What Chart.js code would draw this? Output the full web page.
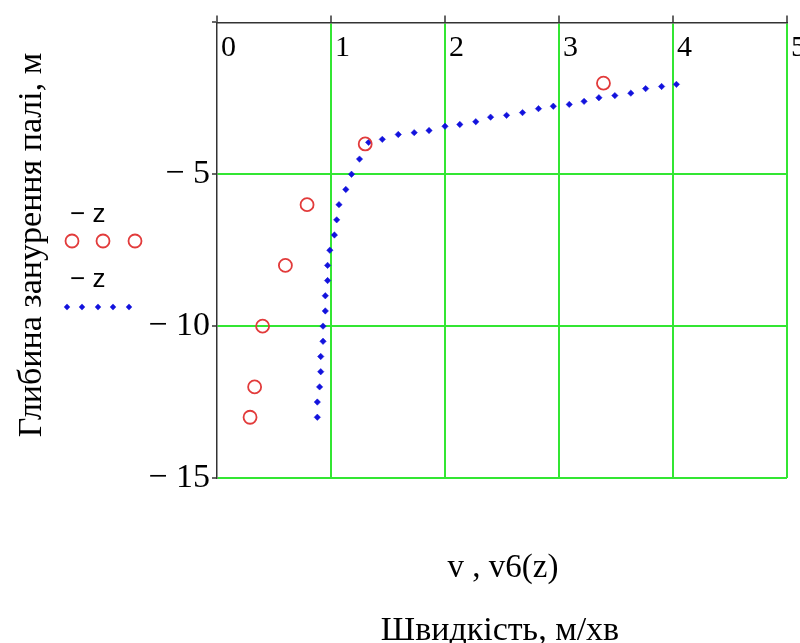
<!DOCTYPE html>
<html>
<head>
<meta charset="utf-8">
<script src="https://cdn.jsdelivr.net/npm/chart.js@4.4.1/dist/chart.umd.min.js"></script>
<style>
  html, body { margin: 0; padding: 0; background: #fff; }
  canvas { display: block; }
</style>
</head>
<body>
<canvas id="chart" width="800" height="643"></canvas>
<script>
// measured speed v (red circles)
const vX = [3.39, 1.30, 0.79, 0.60, 0.40, 0.33, 0.29];
const vZ = [-2, -4, -6, -8, -10, -12, -13];

// computed speed v6(z) (blue dots)
const v6X = [4.03, 3.90, 3.76, 3.63, 3.49, 3.35, 3.22, 3.09, 2.95, 2.82, 2.68, 2.54, 2.40, 2.27,
             2.13, 2.00, 1.86, 1.73, 1.59, 1.45, 1.33, 1.25, 1.18, 1.13, 1.07, 1.05, 1.03, 0.99,
             0.97, 0.97, 0.95, 0.95, 0.93, 0.93, 0.91, 0.91, 0.90, 0.88, 0.88];
const v6Z = [-2.04, -2.11, -2.18, -2.33, -2.41, -2.48, -2.60, -2.70, -2.76, -2.84, -2.97, -3.06, -3.12, -3.27,
             -3.36, -3.42, -3.56, -3.63, -3.69, -3.85, -3.95, -4.5, -5.0, -5.5, -6.0, -6.5, -7.0, -7.5,
             -8.0, -8.5, -9.0, -9.5, -10.0, -10.5, -11.0, -11.5, -12.0, -12.5, -13.0];

const xTicks = [0, 1, 2, 3, 4, 5];
const yTicks = [0, -5, -10, -15];

const yTitle = 'Глибина занурення палі, м';
const xTitle1 = 'v , v6(z)';
const xTitle2 = 'Швидкість, м/хв';
const legendLabel = '\u2212 z';

const RED = '#e23b3b';
const BLUE = '#1212dd';
const GREEN = '#33e633';
const SERIF = '"Liberation Serif", "Times New Roman", serif';
const SANS = '"Liberation Sans", Arial, sans-serif';

const toPoints = (xs, ys) => xs.map((x, i) => ({ x, y: ys[i] }));

const extras = {
  id: 'extras',
  afterDraw(chart) {
    const { ctx } = chart;
    const xs = chart.scales.x;
    ctx.save();
    ctx.fillStyle = '#000';

    // x tick labels sit under the top axis, inside the plot
    ctx.font = '30px ' + SERIF;
    ctx.textAlign = 'left';
    ctx.textBaseline = 'alphabetic';
    xs.ticks.forEach(t => {
      ctx.fillText(String(t.value), xs.getPixelForValue(t.value) + 4, 56);
    });

    // legend
    ctx.font = '26px ' + SANS;
    ctx.fillText(legendLabel, 70, 222);
    ctx.fillText(legendLabel, 70, 287);
    ctx.strokeStyle = RED;
    ctx.lineWidth = 1.8;
    [72, 103, 135].forEach(x => {
      ctx.beginPath();
      ctx.arc(x, 241, 6.5, 0, Math.PI * 2);
      ctx.stroke();
    });
    ctx.fillStyle = BLUE;
    [67, 82, 98, 113, 129].forEach(x => {
      ctx.beginPath();
      ctx.moveTo(x, 307 - 3.2); ctx.lineTo(x + 3.2, 307); ctx.lineTo(x, 307 + 3.2); ctx.lineTo(x - 3.2, 307);
      ctx.closePath();
      ctx.fill();
    });

    // axis titles
    ctx.fillStyle = '#000';
    ctx.textAlign = 'center';
    ctx.font = '34px ' + SERIF;
    ctx.save();
    ctx.translate(41, 245);
    ctx.rotate(-Math.PI / 2);
    ctx.fillText(yTitle, 0, 0);
    ctx.restore();
    ctx.font = '33px ' + SERIF;
    ctx.fillText(xTitle1, 503, 577);
    ctx.font = '34px ' + SERIF;
    ctx.fillText(xTitle2, 500, 640);
    ctx.restore();
  }
};

new Chart(document.getElementById('chart'), {
  type: 'scatter',
  data: {
    datasets: [
      {
        label: 'v',
        data: toPoints(vX, vZ),
        pointStyle: 'circle',
        pointRadius: 6.5,
        borderWidth: 1.8,
        borderColor: RED,
        backgroundColor: 'rgba(0,0,0,0)'
      },
      {
        label: 'v6(z)',
        data: toPoints(v6X, v6Z),
        pointStyle: 'rectRot',
        pointRadius: 3.2,
        borderWidth: 0.5,
        borderColor: BLUE,
        backgroundColor: BLUE
      }
    ]
  },
  options: {
    responsive: false,
    animation: false,
    layout: { padding: { left: 0, top: 0, right: 13, bottom: 165 } },
    plugins: { legend: { display: false }, tooltip: { enabled: false } },
    scales: {
      x: {
        type: 'linear',
        position: 'top',
        min: 0,
        max: 5,
        afterBuildTicks: s => { s.ticks = xTicks.map(value => ({ value })); },
        afterFit: s => { s.height = 21; },
        ticks: { display: false },
        grid: {
          color: c => (c.tick && c.tick.value === 0 ? 'rgba(0,0,0,0)' : GREEN),
          lineWidth: 2,
          tickColor: '#333',
          tickLength: 7,
          tickWidth: 1.5
        },
        border: { color: '#333', width: 1.5 }
      },
      y: {
        type: 'linear',
        position: 'left',
        min: -15,
        max: 0,
        afterBuildTicks: s => { s.ticks = yTicks.map(value => ({ value })); },
        afterFit: s => { s.width = 217; },
        ticks: {
          color: '#000',
          font: { family: SERIF, size: 34 },
          padding: 2,
          callback: v => (v === 0 ? '' : '\u2212 ' + Math.abs(v))
        },
        grid: {
          color: c => (c.tick && c.tick.value === 0 ? 'rgba(0,0,0,0)' : GREEN),
          lineWidth: 2,
          tickColor: '#333',
          tickLength: 5,
          tickWidth: 1.5
        },
        border: { color: '#333', width: 1.5 }
      }
    }
  },
  plugins: [extras]
});
</script>
</body>
</html>
